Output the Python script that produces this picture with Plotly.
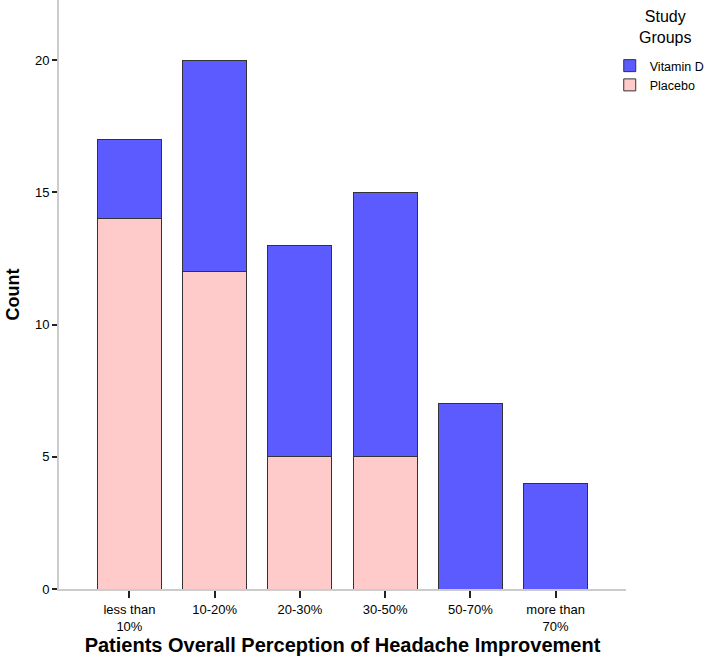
import plotly.graph_objects as go

categories = ["less than 10%", "10-20%", "20-30%", "30-50%", "50-70%", "more than 70%"]
tick_labels = ["less than<br>10%", "10-20%", "20-30%", "30-50%", "50-70%", "more than<br>70%"]
placebo = [14, 12, 5, 5, 0, 0]
vitamin_d = [3, 8, 8, 10, 7, 4]

FONT = "Liberation Sans, Arial, sans-serif"

fig = go.Figure()
fig.add_trace(go.Bar(
    x=categories, y=placebo, name="Placebo",
    marker=dict(color="#FFCACA", line=dict(color="#333333", width=1)),
    width=0.75,
))
fig.add_trace(go.Bar(
    x=categories, y=vitamin_d, name="Vitamin D",
    marker=dict(color="#5B5BFF", line=dict(color="#333333", width=1)),
    width=0.75,
))

fig.add_annotation(
    text="Study<br>Groups", xref="paper", yref="paper",
    x=(665 - 59) / 567, y=1 - 27 / 589, xanchor="center", yanchor="middle",
    align="center", showarrow=False, font=dict(size=16),
)

fig.update_layout(
    barmode="stack",
    width=709, height=667,
    margin=dict(l=59, r=83, t=0, b=78, autoexpand=False),
    plot_bgcolor="white", paper_bgcolor="white",
    font=dict(family=FONT, size=13, color="black"),
    legend=dict(
        xref="container", yref="container",
        x=0.860, y=1 - 51 / 667, xanchor="left", yanchor="top",
        traceorder="reversed",
        font=dict(size=12.5),
        itemwidth=30,
        tracegroupgap=0,
    ),
    xaxis=dict(
        type="category",
        tickmode="array", tickvals=categories, ticktext=tick_labels,
        range=[-0.826, 5.826],
        automargin=True,
        showline=True, linecolor="#cccccc", linewidth=2,
        ticks="outside", ticklen=7, tickwidth=2, tickcolor="#222222",
        showgrid=False, zeroline=False,
        tickfont=dict(size=13),
        title=dict(text="<b>Patients Overall Perception of Headache Improvement</b>",
                   font=dict(size=20), standoff=0),
    ),
    yaxis=dict(
        range=[0, 22.27],
        tickvals=[0, 5, 10, 15, 20],
        automargin=True,
        showline=True, linecolor="#cccccc", linewidth=2,
        ticks="outside", ticklen=5, tickwidth=2, tickcolor="#222222",
        showgrid=False, zeroline=False,
        tickfont=dict(size=13),
        title=dict(text="<b>Count</b>", font=dict(size=18), standoff=11),
    ),
)

fig.write_html("out.html",
               config={"displayModeBar": False},
               post_script="document.body.style.margin='0';document.body.style.overflow='hidden';")
